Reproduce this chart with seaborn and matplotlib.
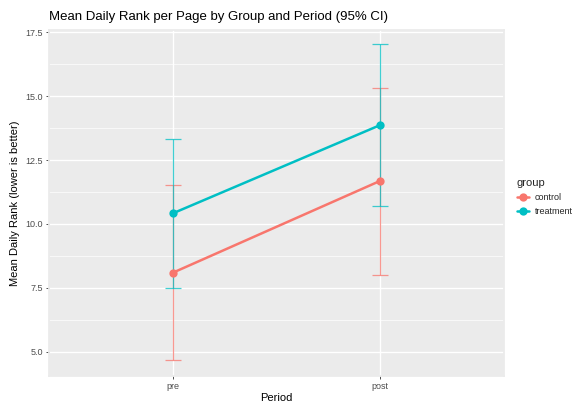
import matplotlib
matplotlib.use("Agg")
import matplotlib.pyplot as plt
import seaborn as sns
import pandas as pd
from matplotlib.ticker import MultipleLocator

periods = ["pre", "post"]
groups = ["control", "treatment"]
mean_control = [8.1, 11.68]
lo_control = [4.68, 8.02]
hi_control = [11.52, 15.3]
mean_treatment = [10.42, 13.86]
lo_treatment = [7.48, 10.7]
hi_treatment = [13.32, 17.04]

colors = {"control": "#F8766D", "treatment": "#00BFC4"}

df = pd.DataFrame({
    "period": periods * 2,
    "group": ["control"] * 2 + ["treatment"] * 2,
    "mean": mean_control + mean_treatment,
    "lo": lo_control + lo_treatment,
    "hi": hi_control + hi_treatment,
})
df["period"] = pd.Categorical(df["period"], categories=periods, ordered=True)

sns.set_theme(style="darkgrid", rc={
    "axes.facecolor": "#EBEBEB",
    "grid.color": "white",
    "axes.edgecolor": "#EBEBEB",
})
plt.rcParams["font.family"] = ["Liberation Sans", "DejaVu Sans"]

fig = plt.figure(figsize=(5.76, 4.03), dpi=100)
ax = fig.add_axes([49 / 576, 1 - 376 / 403, (504 - 49) / 576, (376 - 30) / 403])

# error bars first so points/lines sit on top
for g in groups:
    sub = df[df["group"] == g]
    xpos = sub["period"].cat.codes.values
    ax.errorbar(
        xpos, sub["mean"],
        yerr=[sub["mean"] - sub["lo"], sub["hi"] - sub["mean"]],
        fmt="none", ecolor=colors[g], elinewidth=0.9, capsize=5.8,
        capthick=0.9, alpha=0.75, zorder=2,
    )

sns.pointplot(
    data=df, x="period", y="mean", hue="group", hue_order=groups,
    order=periods, palette=colors, errorbar=None, ax=ax,
    markers="o", markersize=4.6, linewidth=1.8, zorder=3,
)

ax.set_xlim(-0.6, 1.6)
ax.set_ylim(4.06, 17.58)
ax.yaxis.set_major_locator(MultipleLocator(2.5))
ax.yaxis.set_minor_locator(MultipleLocator(1.25))
ax.yaxis.set_major_formatter(matplotlib.ticker.FormatStrFormatter("%.1f"))
ax.grid(which="major", color="white", linewidth=1.0)
ax.grid(which="minor", axis="y", color="white", linewidth=0.5)
ax.tick_params(axis="both", which="major", length=2.5, width=0.6, color="#333333",
               labelsize=6.5, labelcolor="#4D4D4D", pad=2, left=True, bottom=True)
ax.tick_params(axis="y", which="minor", length=0)

ax.set_xlabel("Period", fontsize=8, color="black", labelpad=1)
ax.set_ylabel("Mean Daily Rank (lower is better)", fontsize=8, color="black", labelpad=4)
fig.text(49 / 576, 1 - 17 / 403, "Mean Daily Rank per Page by Group and Period (95% CI)",
         fontsize=9.5, color="black", va="center", ha="left")

ax.get_legend().remove()
handles, labels = ax.get_legend_handles_labels()
leg = fig.legend(
    handles[:2], labels[:2], title="group", loc="upper left",
    bbox_to_anchor=(513 / 576, 1 - 174 / 403), frameon=False,
    fontsize=6.5, title_fontsize=8, handlelength=1.4, labelspacing=0.6,
    handletextpad=0.6, borderaxespad=0,
)
leg._legend_box.align = "left"

plt.savefig("out.png", dpi=100)
